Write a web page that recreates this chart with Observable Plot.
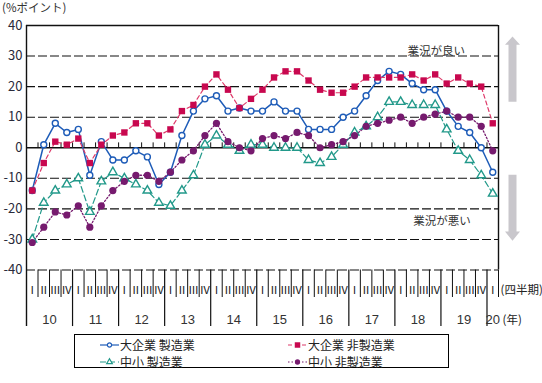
<!DOCTYPE html>
<html>
<head>
<meta charset="utf-8">
<script src="https://cdn.jsdelivr.net/npm/d3@7"></script>
<script src="https://cdn.jsdelivr.net/npm/@observablehq/plot@0.6"></script>
<style>
  body { margin: 0; background: #fff; font-family: "Noto Sans CJK JP", "Noto Sans", sans-serif; }
  #wrap { position: relative; width: 542px; height: 383px; overflow: hidden; }
  #title { position: absolute; left: 2px; top: 1px; font-size: 11.5px; line-height: 12px; color: #333; }
  #chart { position: absolute; left: 0; top: 0; }
  #legend { position: absolute; left: 74px; top: 334px; width: 375px; height: 34px; border: 1px solid #000; box-sizing: border-box; }
  .item { position: absolute; display: flex; align-items: center; font-size: 12px; line-height: 14px; color: #222; height: 14px; }
  .item span { line-height: 14px; }
  .item svg { margin-right: 1px; }
</style>
</head>
<body>
<div id="wrap">
  <div id="chart"></div>
  <div id="title">(%ポイント)</div>
  <div id="legend"></div>
</div>
<script>
// ---- data ----
const quarterNames = ["Ⅰ", "Ⅱ", "Ⅲ", "Ⅳ"];
const yearLabels = ["10", "11", "12", "13", "14", "15", "16", "17", "18", "19", "20"];
const yTicks = [40, 30, 20, 10, 0, -10, -20, -30, -40];
const seriesNames = ["大企業 製造業", "大企業 非製造業", "中小 製造業", "中小 非製造業"];

const largeMfg = [-14, 1, 8, 5, 6, -9, 2, -4, -4, -1, -3, -12, -8, 4, 12, 16, 17, 12, 13, 12,
  12, 15, 12, 12, 6, 6, 6, 10, 12, 17, 22, 25, 24, 21, 19, 19, 12, 7, 5, 0, -8];
const largeNonMfg = [-14, -5, 2, 1, 3, -5, 1, 4, 5, 8, 8, 4, 6, 12, 14, 20, 24, 19, 13, 16,
  19, 23, 25, 25, 22, 19, 18, 18, 20, 23, 23, 23, 23, 24, 22, 24, 21, 23, 21, 20, 8];
const smallMfg = [-30, -18, -14, -12, -10, -21, -11, -8, -10, -12, -14, -18, -19, -14, -9, 1, 4, 1, -1, 1,
  1, 0, 0, 0, -4, -5, -3, 1, 5, 7, 10, 15, 15, 14, 14, 14, 6, -1, -4, -9, -15];
const smallNonMfg = [-31, -26, -21, -22, -19, -26, -19, -14, -11, -9, -9, -11, -8, -4, -1, 4, 8, 2, 0, -1,
  3, 4, 3, 5, 4, 0, 1, 2, 4, 7, 8, 9, 10, 8, 10, 11, 12, 10, 10, 7, -1];

// ---- derived tables ----
const periods = largeMfg.map((_, i) => ({ i, q: quarterNames[i % 4], year: yearLabels[Math.floor(i / 4)] }));
const yearCenters = yearLabels.map((y, k) => ({ label: y, x: Math.min(4 * k + 1.5, largeMfg.length - 1) }));
const qBounds = d3.range(0, largeMfg.length).map(k => k + 0.5);
const yearBounds = qBounds.filter(b => (b + 0.5) % 4 === 0 && b < largeMfg.length - 1);
const quarterOnly = qBounds.filter(b => !yearBounds.includes(b));
const toRows = arr => arr.map((v, i) => ({ i, v }));

const C = {
  blue: "#1e5cb8",
  red: "#c8084f",
  redLine: "#de3a6a",
  green: "#22998a",
  purple: "#761a6e"
};

const series = [
  { name: seriesNames[0], data: toRows(largeMfg), color: C.blue, line: C.blue, dash: null, width: 1.5, symbol: "circle", fill: "#fff", r: 3 },
  { name: seriesNames[1], data: toRows(largeNonMfg), color: C.red, line: C.redLine, dash: "4,3", width: 1.2, symbol: "square", fill: C.red, r: 3.6 },
  { name: seriesNames[2], data: toRows(smallMfg), color: C.green, line: C.green, dash: "6,3", width: 1.2, symbol: "triangle", fill: "#fff", r: 3.2 },
  { name: seriesNames[3], data: toRows(smallNonMfg), color: C.purple, line: C.purple, dash: "1.5,2", width: 1.3, symbol: "circle", fill: C.purple, r: 3.6 }
];

const font = '"Noto Sans CJK JP", "Noto Sans", sans-serif';
const lineMarks = [];
const dotMarks = [];
for (const s of [series[2], series[0], series[3], series[1]]) {
  lineMarks.push(Plot.line(s.data, { x: "i", y: "v", stroke: s.line, strokeWidth: s.width, strokeDasharray: s.dash }));
}
for (const s of [series[2], series[0], series[1], series[3]]) {
  dotMarks.push(Plot.dot(s.data, {
    x: "i", y: "v", symbol: () => s.symbol, r: s.r,
    stroke: s.color, strokeWidth: s.fill === "#fff" ? 1.4 : 0, fill: s.fill
  }));
}

const chart = Plot.plot({
  width: 542,
  height: 330,
  marginLeft: 26,
  marginRight: 44,
  marginTop: 25,
  marginBottom: 60.5,
  style: { fontFamily: font, background: "#fff", overflow: "visible" },
  x: { type: "linear", domain: [-0.5, largeMfg.length - 0.5], axis: null },
  y: { domain: [-40, 40], axis: null },
  symbol: { type: "identity" },
  marks: [
    Plot.ruleY(yTicks.filter(t => t !== 0 && t !== 40), { stroke: "#111", strokeWidth: 1.1, strokeDasharray: "9,3" }),
    Plot.ruleY([0], { stroke: "#111", strokeWidth: 1.4 }),
    Plot.ruleY([40], { stroke: "#111", strokeWidth: 1.4 }),
    Plot.ruleX(qBounds, { y1: 0, y2: 1.6, stroke: "#111", strokeWidth: 1 }),
    Plot.ruleX([largeMfg.length - 0.5], { y1: -40, y2: 40, stroke: "#111", strokeWidth: 1.4 }),
    Plot.ruleX([-0.5], { y1: -58.5, y2: 40, stroke: "#111", strokeWidth: 1.4 }),
    Plot.ruleX(quarterOnly, { y1: -40, y2: -49, stroke: "#111", strokeWidth: 1 }),
    Plot.ruleX(yearBounds, { y1: -40, y2: -58.5, stroke: "#111", strokeWidth: 1.2 }),
    Plot.axisY({ ticks: yTicks, tickSize: 0, tickPadding: 4, fontSize: 13, fill: "#2a2a3a", label: null, tickFormat: d => String(d) }),
    Plot.text(periods, { x: "i", y: -46.6, text: "q", fontSize: 11, fill: "#222" }),
    Plot.text(yearCenters, { x: "x", y: -56.3, text: "label", fontSize: 13, fontFamily: "Liberation Sans", fill: "#333" }),
    Plot.text(["(四半期)"], { x: largeMfg.length - 0.5, y: -46.6, text: d => d, dx: 2, textAnchor: "start", fontSize: 11.5, fill: "#222" }),
    Plot.text(["(年)"], { x: largeMfg.length - 0.5, y: -56.3, text: d => d, dx: 4, textAnchor: "start", fontSize: 11.5, fill: "#222" }),
    Plot.text(["業況が良い"], { x: 35.1, y: 31.6, text: d => d, fontSize: 11.5, fill: "#333" }),
    Plot.text(["業況が悪い"], { x: 35.6, y: -24.2, text: d => d, fontSize: 11.5, fill: "#333" }),
    ...lineMarks,
    ...dotMarks
  ]
});
document.getElementById("chart").appendChild(chart);

// decorative block arrows at the right side, positioned through the chart's scales
const xs = chart.scale("x"), ys = chart.scale("y");
const svg = d3.select(chart);
const ax = xs.apply(largeMfg.length - 0.5) + 14.5;
const arrows = [
  { tip: 36.2, base: 33.5, end: 14.9 },
  { tip: -30.6, base: -27.6, end: -9 }
];
for (const a of arrows) {
  const yt = ys.apply(a.tip), yb = ys.apply(a.base), ye = ys.apply(a.end);
  const pts = [[ax, yt], [ax + 7.5, yb], [ax + 4, yb], [ax + 4, ye], [ax - 4, ye], [ax - 4, yb], [ax - 7.5, yb]];
  svg.append("polygon").attr("points", pts.map(p => p.join(",")).join(" ")).attr("fill", "#c9c7cc");
}

// legend
const legend = d3.select("#legend");
const pos = [[25, 3], [213, 3], [25, 20], [213, 20]];
series.forEach((s, k) => {
  const item = legend.append("div").attr("class", "item").style("left", pos[k][0] + "px").style("top", pos[k][1] + "px");
  const sv = item.append("svg").attr("width", 19).attr("height", 12);
  sv.append("line").attr("x1", 0).attr("x2", 19).attr("y1", 6).attr("y2", 6)
    .attr("stroke", s.line).attr("stroke-width", 1.2).attr("stroke-dasharray", s.dash);
  const sym = s.symbol === "square" ? d3.symbolSquare : s.symbol === "triangle" ? d3.symbolTriangle : d3.symbolCircle;
  const size = s.symbol === "square" ? 30 : s.symbol === "triangle" ? 14 : (s.fill === "#fff" ? 14 : 22);
  sv.append("path").attr("d", d3.symbol(sym, size)()).attr("transform", "translate(9.5,6)")
    .attr("fill", s.fill).attr("stroke", s.fill === "#fff" ? s.color : "none").attr("stroke-width", 1.2);
  item.append("span").text(s.name);
});
</script>
</body>
</html>
